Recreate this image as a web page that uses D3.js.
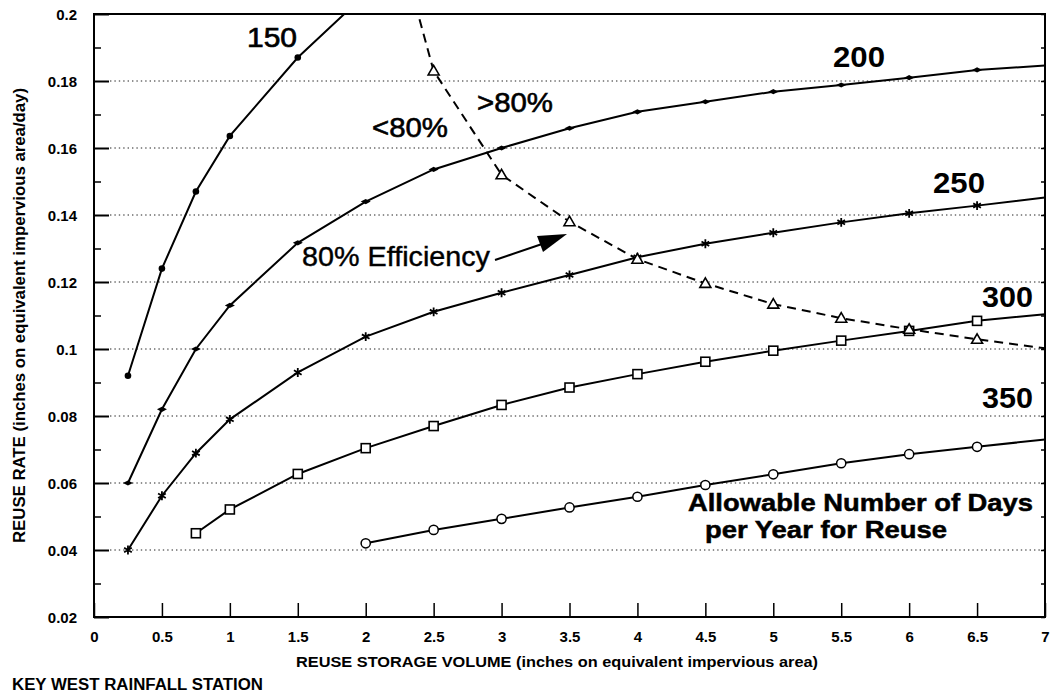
<!DOCTYPE html>
<html>
<head>
<meta charset="utf-8">
<script src="https://cdn.jsdelivr.net/npm/d3@7"></script>
<style>
  html, body { margin: 0; padding: 0; background: #fff; }
  svg { display: block; font-family: "Liberation Sans", Arial, Helvetica, sans-serif; }
</style>
</head>
<body>
<svg id="chart" width="1057" height="695"></svg>
<script>
// Reuse storage volume (inches on equivalent impervious area)
const storage = [0.25, 0.5, 0.75, 1, 1.5, 2, 2.5, 3, 3.5, 4, 4.5, 5, 5.5, 6, 6.5, 7];

// Reuse rate (in/day) for each allowable number of reuse days per year
const days150 = [0.092, 0.124, 0.147, 0.1636, 0.187, 0.206, null, null, null, null, null, null, null, null, null, null];
const days200 = [0.06, 0.082, 0.100, 0.113, 0.1317, 0.144, 0.1536, 0.160, 0.1659, 0.1708, 0.1738, 0.1768, 0.1788, 0.181, 0.1833, 0.1846];
const days250 = [0.04, 0.0562, 0.0689, 0.079, 0.093, 0.1037, 0.1111, 0.1168, 0.1221, 0.1274, 0.1314, 0.1347, 0.1378, 0.1405, 0.1428, 0.1452];
const days300 = [null, null, 0.045, 0.0521, 0.0627, 0.0704, 0.077, 0.0833, 0.0885, 0.0925, 0.0962, 0.0995, 0.1025, 0.1054, 0.1084, 0.1104];
const days350 = [null, null, null, null, null, 0.042, 0.046, 0.0493, 0.0527, 0.0559, 0.0594, 0.0626, 0.0659, 0.0686, 0.0708, 0.073];

// 80% efficiency boundary
const effStorage = [2.25, 2.5, 3, 3.5, 4, 4.5, 5, 5.5, 6, 6.5, 7];
const eff80 = [0.22, 0.183, 0.152, 0.138, 0.1268, 0.1196, 0.1134, 0.1092, 0.1059, 0.1029, 0.1002];

// Axis ticks
const xTicks = [0, 0.5, 1, 1.5, 2, 2.5, 3, 3.5, 4, 4.5, 5, 5.5, 6, 6.5, 7];
const xTickLabels = ["0", "0.5", "1", "1.5", "2", "2.5", "3", "3.5", "4", "4.5", "5", "5.5", "6", "6.5", "7"];
const yTicks = [0.02, 0.04, 0.06, 0.08, 0.1, 0.12, 0.14, 0.16, 0.18, 0.2];
const yTickLabels = ["0.02", "0.04", "0.06", "0.08", "0.1", "0.12", "0.14", "0.16", "0.18", "0.2"];
const yMinorTicks = [0.03, 0.05, 0.07, 0.09, 0.11, 0.13, 0.15, 0.17, 0.19];

const seriesDays = [150, 200, 250, 300, 350];
const seriesValues = [days150, days200, days250, days300, days350];
const seriesMarkers = ["dot", "diamond", "star", "square", "ring"];

const svg = d3.select("#chart");
const plotLeft = 94, plotRight = 1045, plotTop = 14, plotBottom = 617;

const x = d3.scaleLinear().domain([0, 7]).range([plotLeft, plotRight]);
const y = d3.scaleLinear().domain([0.02, 0.2]).range([plotBottom, plotTop]);

svg.append("defs").append("clipPath").attr("id", "plotClip")
  .append("rect").attr("x", plotLeft).attr("y", plotTop)
  .attr("width", plotRight - plotLeft).attr("height", plotBottom - plotTop);

// Dotted horizontal gridlines
svg.append("g").selectAll("line")
  .data(yTicks.filter(v => v > 0.02 && v < 0.2))
  .join("line")
  .attr("x1", plotLeft + 16).attr("x2", plotRight)
  .attr("y1", d => y(d)).attr("y2", d => y(d))
  .attr("stroke", "#222").attr("stroke-width", 1)
  .attr("stroke-dasharray", "1.4,3");

// Axes (ticks point inward)
const yAxis = svg.append("g").attr("transform", `translate(${plotLeft},0)`)
  .call(d3.axisLeft(y).tickValues(yTicks).tickSize(-15).tickPadding(17)
    .tickFormat((d, i) => yTickLabels[i]));
yAxis.select(".domain").remove();
yAxis.selectAll(".tick line").attr("stroke", "#000").attr("stroke-width", 2);
yAxis.selectAll(".tick text").attr("font-size", 15).attr("font-weight", "bold")
  .attr("font-family", "Liberation Sans, Arial, sans-serif").attr("fill", "#000").attr("dy", "0.36em");

const yMinor = svg.append("g").attr("transform", `translate(${plotLeft},0)`)
  .call(d3.axisLeft(y).tickValues(yMinorTicks).tickSize(-7).tickFormat(""));
yMinor.select(".domain").remove();
yMinor.selectAll(".tick line").attr("stroke", "#000").attr("stroke-width", 1.5);

const yRight = svg.append("g").attr("transform", `translate(${plotRight},0)`)
  .call(d3.axisRight(y).tickValues(yTicks.concat(yMinorTicks)).tickSize(-4).tickFormat(""));
yRight.select(".domain").remove();
yRight.selectAll(".tick line").attr("stroke", "#000").attr("stroke-width", 1.5);

const xAxis = svg.append("g").attr("transform", `translate(0,${plotBottom})`)
  .call(d3.axisBottom(x).tickValues(xTicks).tickSize(-14).tickPadding(14)
    .tickFormat((d, i) => xTickLabels[i]));
xAxis.select(".domain").remove();
xAxis.selectAll(".tick line").attr("stroke", "#000").attr("stroke-width", 1.5);
xAxis.selectAll(".tick text").attr("font-size", 15).attr("font-weight", "bold")
  .attr("font-family", "Liberation Sans, Arial, sans-serif").attr("fill", "#000");

// Plot frame
svg.append("rect").attr("x", plotLeft).attr("y", plotTop)
  .attr("width", plotRight - plotLeft).attr("height", plotBottom - plotTop)
  .attr("fill", "none").attr("stroke", "#000").attr("stroke-width", 2);

const plot = svg.append("g").attr("clip-path", "url(#plotClip)");

const line = d3.line()
  .defined(d => d[1] !== null)
  .x(d => x(d[0])).y(d => y(d[1]));

function drawMarker(g, type, cx, cy) {
  if (type === "dot") {
    g.append("circle").attr("cx", cx).attr("cy", cy).attr("r", 3.3).attr("fill", "#000");
  } else if (type === "diamond") {
    g.append("path").attr("d", `M${cx - 5},${cy}L${cx},${cy - 2.6}L${cx + 5},${cy}L${cx},${cy + 2.6}Z`)
      .attr("fill", "#000");
  } else if (type === "star") {
    g.append("path").attr("transform", `translate(${cx},${cy})`)
      .attr("d", d3.symbol(d3.symbolAsterisk, 55)())
      .attr("fill", "none").attr("stroke", "#000").attr("stroke-width", 1.8);
  } else if (type === "square") {
    g.append("rect").attr("x", cx - 4.5).attr("y", cy - 4.5).attr("width", 9).attr("height", 9)
      .attr("fill", "#fff").attr("stroke", "#000").attr("stroke-width", 1.6);
  } else if (type === "ring") {
    g.append("circle").attr("cx", cx).attr("cy", cy).attr("r", 4.6)
      .attr("fill", "#fff").attr("stroke", "#000").attr("stroke-width", 1.5);
  } else if (type === "triangle") {
    g.append("path").attr("d", `M${cx},${cy - 5.5}L${cx + 5.5},${cy + 4}L${cx - 5.5},${cy + 4}Z`)
      .attr("fill", "#fff").attr("stroke", "#000").attr("stroke-width", 1.6);
  }
}

// Reuse-days curves
seriesValues.forEach((vals, si) => {
  const pts = storage.map((s, i) => [s, vals[i]]);
  plot.append("path").datum(pts).attr("d", line)
    .attr("fill", "none").attr("stroke", "#000").attr("stroke-width", 2);
  const mg = plot.append("g");
  pts.forEach(p => {
    if (p[1] !== null && p[0] < 7 && p[1] <= 0.2) drawMarker(mg, seriesMarkers[si], x(p[0]), y(p[1]));
  });
});

// 80% efficiency boundary (dashed)
const effPts = effStorage.map((s, i) => [s, eff80[i]]);
plot.append("path").datum(effPts).attr("d", line)
  .attr("fill", "none").attr("stroke", "#000").attr("stroke-width", 2)
  .attr("stroke-dasharray", "9,6");
const tg = plot.append("g");
effPts.forEach(p => {
  if (p[0] < 7 && p[1] <= 0.2) drawMarker(tg, "triangle", x(p[0]), y(p[1]));
});

// Labels
function label(txt, lx, ly, size, weight, len) {
  const t = svg.append("text").attr("x", lx).attr("y", ly)
    .attr("font-size", size).attr("font-weight", weight).attr("fill", "#000").text(txt);
  if (len) t.attr("textLength", len).attr("lengthAdjust", "spacingAndGlyphs");
  return t;
}

label("150", 247, 47, 28, "normal", 50).attr("stroke", "#000").attr("stroke-width", 0.7);
label("200", 833, 67, 29, "bold", 52);
label("250", 933, 193, 29, "bold", 52);
label("300", 982, 307, 29, "bold", 51);
label("350", 982, 408, 29, "bold", 51);
label("<80%", 372, 137, 28, "normal", 76).attr("stroke", "#000").attr("stroke-width", 0.6);
label(">80%", 477, 112, 28, "normal", 76).attr("stroke", "#000").attr("stroke-width", 0.6);
label("80% Efficiency", 302, 266, 27, "normal", 188).attr("stroke", "#000").attr("stroke-width", 0.4);

// Two-line caption for the curve family
label("Allowable Number of Days", 688, 511, 24, "bold", 345).attr("stroke", "#000").attr("stroke-width", 0.5);
label("per Year for Reuse", 705, 538, 24, "bold", 242).attr("stroke", "#000").attr("stroke-width", 0.5);

// Arrow pointing at the efficiency boundary
svg.append("line").attr("x1", 495).attr("y1", 260).attr("x2", 545).attr("y2", 243)
  .attr("stroke", "#000").attr("stroke-width", 2);
svg.append("path").attr("d", "M567,234L537,236L543,252Z").attr("fill", "#000");

// Axis titles and station name
label("REUSE STORAGE VOLUME (inches on equivalent impervious area)", 296, 667, 15, "bold", 522);
svg.append("text")
  .attr("transform", "translate(25,543) rotate(-90)")
  .attr("font-size", 16).attr("font-weight", "bold").attr("fill", "#000")
  .attr("textLength", 455).attr("lengthAdjust", "spacingAndGlyphs")
  .text("REUSE RATE (inches on equivalent impervious area/day)");
label("KEY WEST RAINFALL STATION", 12, 690, 16, "bold", 251);
</script>
</body>
</html>
